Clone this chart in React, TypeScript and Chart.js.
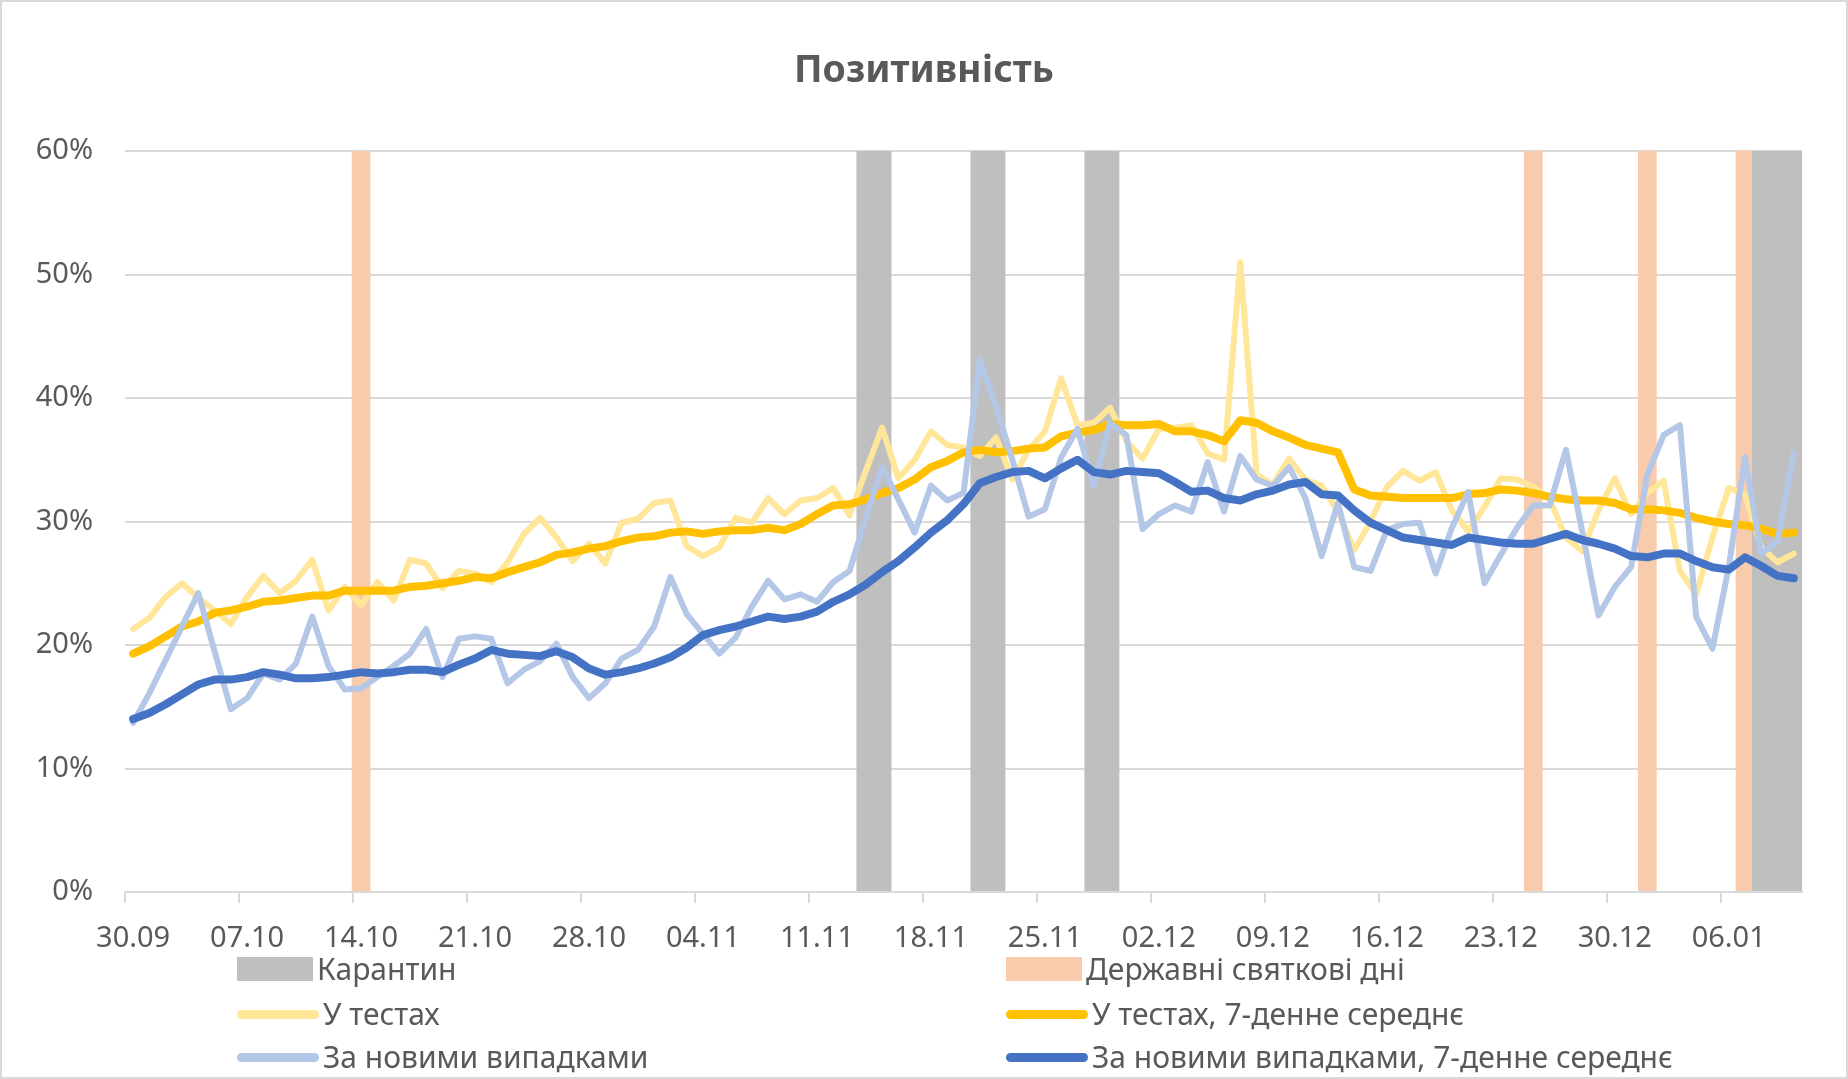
import React, { useEffect, useRef } from 'react';
import { Chart, registerables } from 'chart.js';
import type { ChartConfiguration } from 'chart.js';

Chart.register(...registerables);

// Excel-like look: grey text, light grey grid
Chart.defaults.font.family = "'Noto Sans', 'Open Sans', sans-serif";
Chart.defaults.color = '#595959';

// one label per day, 30.09 .. 10.01
const dates = [
  '30.09',
  '01.10', '02.10', '03.10', '04.10', '05.10', '06.10', '07.10', '08.10', '09.10', '10.10',
  '11.10', '12.10', '13.10', '14.10', '15.10', '16.10', '17.10', '18.10', '19.10', '20.10',
  '21.10', '22.10', '23.10', '24.10', '25.10', '26.10', '27.10', '28.10', '29.10', '30.10', '31.10',
  '01.11', '02.11', '03.11', '04.11', '05.11', '06.11', '07.11', '08.11', '09.11', '10.11',
  '11.11', '12.11', '13.11', '14.11', '15.11', '16.11', '17.11', '18.11', '19.11', '20.11',
  '21.11', '22.11', '23.11', '24.11', '25.11', '26.11', '27.11', '28.11', '29.11', '30.11',
  '01.12', '02.12', '03.12', '04.12', '05.12', '06.12', '07.12', '08.12', '09.12', '10.12',
  '11.12', '12.12', '13.12', '14.12', '15.12', '16.12', '17.12', '18.12', '19.12', '20.12',
  '21.12', '22.12', '23.12', '24.12', '25.12', '26.12', '27.12', '28.12', '29.12', '30.12', '31.12',
  '01.01', '02.01', '03.01', '04.01', '05.01', '06.01', '07.01', '08.01', '09.01', '10.01',
];

const tickLabels = [
  '30.09', '07.10', '14.10', '21.10', '28.10', '04.11', '11.11', '18.11',
  '25.11', '02.12', '09.12', '16.12', '23.12', '30.12', '06.01',
];

const quarantineDays = ['14.11', '15.11', '21.11', '22.11', '28.11', '29.11', '08.01', '09.01', '10.01'];
const holidayDays = ['14.10', '25.12', '01.01', '07.01'];

// positivity, %
const testsDaily = [
  21.3, 22.2, 23.9, 25.0, 23.8, 22.8, 21.7, 23.9, 25.6, 24.2,
  25.2, 26.9, 22.8, 24.7, 23.2, 25.1, 23.6, 26.9, 26.6, 24.6,
  26.0, 25.8, 25.1, 26.7, 29.0, 30.3, 28.7, 26.8, 28.2, 26.6,
  29.9, 30.2, 31.5, 31.7, 28.0, 27.2, 27.9, 30.3, 29.9, 31.9,
  30.6, 31.7, 31.9, 32.7, 30.5, 34.1, 37.6, 33.5, 35.0, 37.3,
  36.2, 36.0, 35.3, 36.8, 33.4, 35.8, 37.3, 41.6, 37.8, 38.0,
  39.2, 36.5, 35.1, 37.5, 37.6, 37.8, 35.5, 35.0, 51.0, 33.8,
  33.0, 35.1, 33.4, 32.9, 30.8, 27.7, 30.0, 32.8, 34.1, 33.3,
  34.0, 30.9, 29.2, 31.2, 33.5, 33.4, 32.8, 31.8, 28.7, 27.6,
  30.9, 33.5, 30.6, 32.3, 33.3, 26.0, 24.1, 28.7, 32.7, 32.2,
  27.9, 26.7, 27.4,
];

const testsAvg7 = [
  19.3, 19.9, 20.7, 21.5, 21.9, 22.6, 22.8, 23.1, 23.5, 23.6,
  23.8, 24.0, 24.0, 24.4, 24.4, 24.4, 24.4, 24.7, 24.8, 25.0,
  25.2, 25.5, 25.4, 25.9, 26.3, 26.7, 27.3, 27.5, 27.8, 28.0,
  28.4, 28.7, 28.8, 29.1, 29.2, 29.0, 29.2, 29.3, 29.3, 29.5,
  29.3, 29.8, 30.6, 31.3, 31.4, 31.8, 32.3, 32.7, 33.4, 34.4,
  34.9, 35.6, 35.8, 35.6, 35.7, 35.9, 36.0, 36.9, 37.2, 37.4,
  37.9, 37.8, 37.8, 37.9, 37.3, 37.3, 37.0, 36.5, 38.2, 38.0,
  37.3, 36.8, 36.2, 35.9, 35.6, 32.6, 32.1, 32.0, 31.9, 31.9,
  31.9, 31.9, 32.2, 32.3, 32.6, 32.5, 32.3, 32.0, 31.8, 31.7,
  31.7, 31.5, 31.0, 31.0, 30.9, 30.7, 30.3, 30.0, 29.8, 29.7,
  29.4, 29.0, 29.1,
];

const casesDaily = [
  13.7, 16.1, 18.8, 21.5, 24.2, 19.5, 14.8, 15.7, 17.7, 17.2,
  18.5, 22.3, 18.3, 16.4, 16.5, 17.4, 18.3, 19.3, 21.3, 17.4,
  20.5, 20.7, 20.5, 16.9, 18.0, 18.7, 20.1, 17.4, 15.7, 16.9,
  18.9, 19.6, 21.5, 25.5, 22.5, 20.9, 19.3, 20.6, 23.1, 25.2,
  23.7, 24.1, 23.5, 25.1, 26.0, 30.3, 34.4, 31.8, 29.1, 32.9,
  31.7, 32.3, 43.1, 39.3, 35.0, 30.4, 31.0, 35.2, 37.5, 32.9,
  38.0, 37.0, 29.4, 30.6, 31.3, 30.8, 34.8, 30.8, 35.3, 33.4,
  32.9, 34.4, 31.9, 27.2, 31.5, 26.3, 26.0, 29.3, 29.8, 29.9,
  25.8, 29.5, 32.4, 25.0, 27.3, 29.5, 31.3, 31.3, 35.8, 29.2,
  22.4, 24.7, 26.3, 33.8, 37.0, 37.8, 22.3, 19.7, 26.3, 35.2,
  27.4, 28.4, 35.6,
];

const casesAvg7 = [
  14.0, 14.5, 15.2, 16.0, 16.8, 17.2, 17.2, 17.4, 17.8, 17.6,
  17.3, 17.3, 17.4, 17.6, 17.8, 17.7, 17.8, 18.0, 18.0, 17.8,
  18.4, 18.9, 19.6, 19.3, 19.2, 19.1, 19.5, 19.0, 18.1, 17.6,
  17.8, 18.1, 18.5, 19.0, 19.8, 20.8, 21.2, 21.5, 21.9, 22.3,
  22.1, 22.3, 22.7, 23.5, 24.1, 24.9, 25.9, 26.8, 27.9, 29.1,
  30.1, 31.4, 33.1, 33.6, 34.0, 34.1, 33.5, 34.3, 35.0, 34.0,
  33.8, 34.1, 34.0, 33.9, 33.2, 32.4, 32.5, 31.9, 31.7, 32.2,
  32.5, 33.0, 33.2, 32.2, 32.1, 30.9, 29.9, 29.3, 28.7, 28.5,
  28.3, 28.1, 28.7, 28.5, 28.3, 28.2, 28.2, 28.6, 29.0, 28.5,
  28.2, 27.8, 27.2, 27.1, 27.4, 27.4, 26.8, 26.3, 26.1, 27.1,
  26.4, 25.6, 25.4,
];

const GRID = '#d9d9d9';

// legend order = Excel legend order
const bands = [
  { label: 'Карантин', color: '#bfbfbf', days: quarantineDays },
  { label: 'Державні святкові дні', color: '#f8cbad', days: holidayDays },
];

const lines = [
  { label: 'У тестах', color: '#ffe699', data: testsDaily, width: 6, order: 4 },
  { label: 'У тестах, 7-денне середнє', color: '#ffc000', data: testsAvg7, width: 8, order: 3 },
  { label: 'За новими випадками', color: '#b4c7e7', data: casesDaily, width: 6, order: 2 },
  { label: 'За новими випадками, 7-денне середнє', color: '#4472c4', data: casesAvg7, width: 8, order: 1 },
];

const legendCols = [237, 1006];
const legendRows = [969, 1014, 1057];

const PositivityChart: React.FC = () => {
  const canvasRef = useRef<HTMLCanvasElement>(null);

  useEffect(() => {
    if (!canvasRef.current) return;

    const config: ChartConfiguration = {
      type: 'line',
      data: {
        labels: dates,
        datasets: [
          ...lines.map((l) => ({
            type: 'line' as const,
            label: l.label,
            data: l.data,
            borderColor: l.color,
            backgroundColor: l.color,
            borderWidth: l.width,
            borderJoinStyle: 'round' as const,
            borderCapStyle: 'round' as const,
            pointRadius: 0,
            tension: 0,
            order: l.order,
          })),
          ...bands.map((b, i) => ({
            type: 'bar' as const,
            label: b.label,
            data: dates.map((d) => (b.days.includes(d) ? 60 : null)),
            backgroundColor: b.color,
            grouped: false,
            barPercentage: 1.15,
            categoryPercentage: 1,
            order: 10 + i,
          })),
        ],
      },
      options: {
        animation: false,
        responsive: true,
        maintainAspectRatio: false,
        events: [],
        layout: {
          padding: { top: 0, left: 0, right: 0, bottom: 127 },
        },
        plugins: {
          legend: { display: false },
          tooltip: { enabled: false },
          title: {
            display: true,
            text: 'Позитивність',
            color: '#595959',
            font: { size: 37.5, weight: 'bold' },
            padding: { top: 49, bottom: 57 },
          },
        },
        scales: {
          x: {
            type: 'category',
            offset: true,
            grid: {
              offset: true,
              drawOnChartArea: false,
              drawTicks: true,
              tickLength: 11,
              lineWidth: 2,
              color: (ctx) => (tickLabels.includes(dates[ctx.index]) ? GRID : 'rgba(0,0,0,0)'),
            },
            border: { display: true, color: GRID, width: 2 },
            ticks: {
              autoSkip: false,
              maxRotation: 0,
              minRotation: 0,
              padding: 18,
              color: '#595959',
              font: { size: 29 },
              callback: (_v, i) => (tickLabels.includes(dates[i]) ? dates[i] : ''),
            },
            afterFit: (scale) => {
              scale.height = 60;
            },
          },
          y: {
            min: 0,
            max: 60,
            ticks: {
              stepSize: 10,
              padding: 32,
              color: '#595959',
              font: { size: 29 },
              callback: (v) => `${v}%`,
            },
            grid: { color: GRID, lineWidth: 2, drawTicks: false },
            border: { display: false },
            afterFit: (scale) => {
              scale.width = 125;
            },
          },
          // empty right-hand margin, keeps the title centred on the whole picture
          yRight: {
            position: 'right',
            min: 0,
            max: 60,
            ticks: { display: false },
            grid: { display: false, drawTicks: false },
            border: { display: false },
            afterFit: (scale) => {
              scale.width = 46;
            },
          },
        },
      },
    };

    const chart = new Chart(canvasRef.current, config);
    return () => {
      chart.destroy();
    };
  }, []);

  const legendItems = [
    ...bands.map((b) => ({ label: b.label, color: b.color, box: true })),
    ...lines.map((l) => ({ label: l.label, color: l.color, box: false })),
  ];

  return (
    <div
      style={{
        position: 'fixed',
        left: 0,
        top: 0,
        width: 1848,
        height: 1079,
        background: '#fff',
        fontFamily: "'Noto Sans', 'Open Sans', sans-serif",
      }}
    >
      <div style={{ position: 'absolute', left: 0, top: 0, width: 1848, height: 1079 }}>
        <canvas ref={canvasRef}></canvas>
      </div>
      {legendItems.map((item, i) => (
        <div
          key={item.label}
          style={{
            position: 'absolute',
            left: legendCols[i % 2],
            top: legendRows[Math.floor(i / 2)] - 20,
            height: 40,
            display: 'flex',
            alignItems: 'center',
            gap: 4,
            whiteSpace: 'nowrap',
          }}
        >
          <span
            style={{
              display: 'inline-block',
              width: item.box ? 76 : 82,
              height: item.box ? 24 : 9,
              borderRadius: item.box ? 0 : 4.5,
              background: item.color,
            }}
          />
          <span style={{ fontSize: 30, lineHeight: '40px', color: '#595959' }}>{item.label}</span>
        </div>
      ))}
      <div
        style={{
          position: 'absolute',
          left: 0,
          top: 0,
          width: 1848,
          height: 1079,
          boxSizing: 'border-box',
          border: `2px solid ${GRID}`,
          pointerEvents: 'none',
        }}
      />
    </div>
  );
};

export default function App() {
  return <PositivityChart />;
}
